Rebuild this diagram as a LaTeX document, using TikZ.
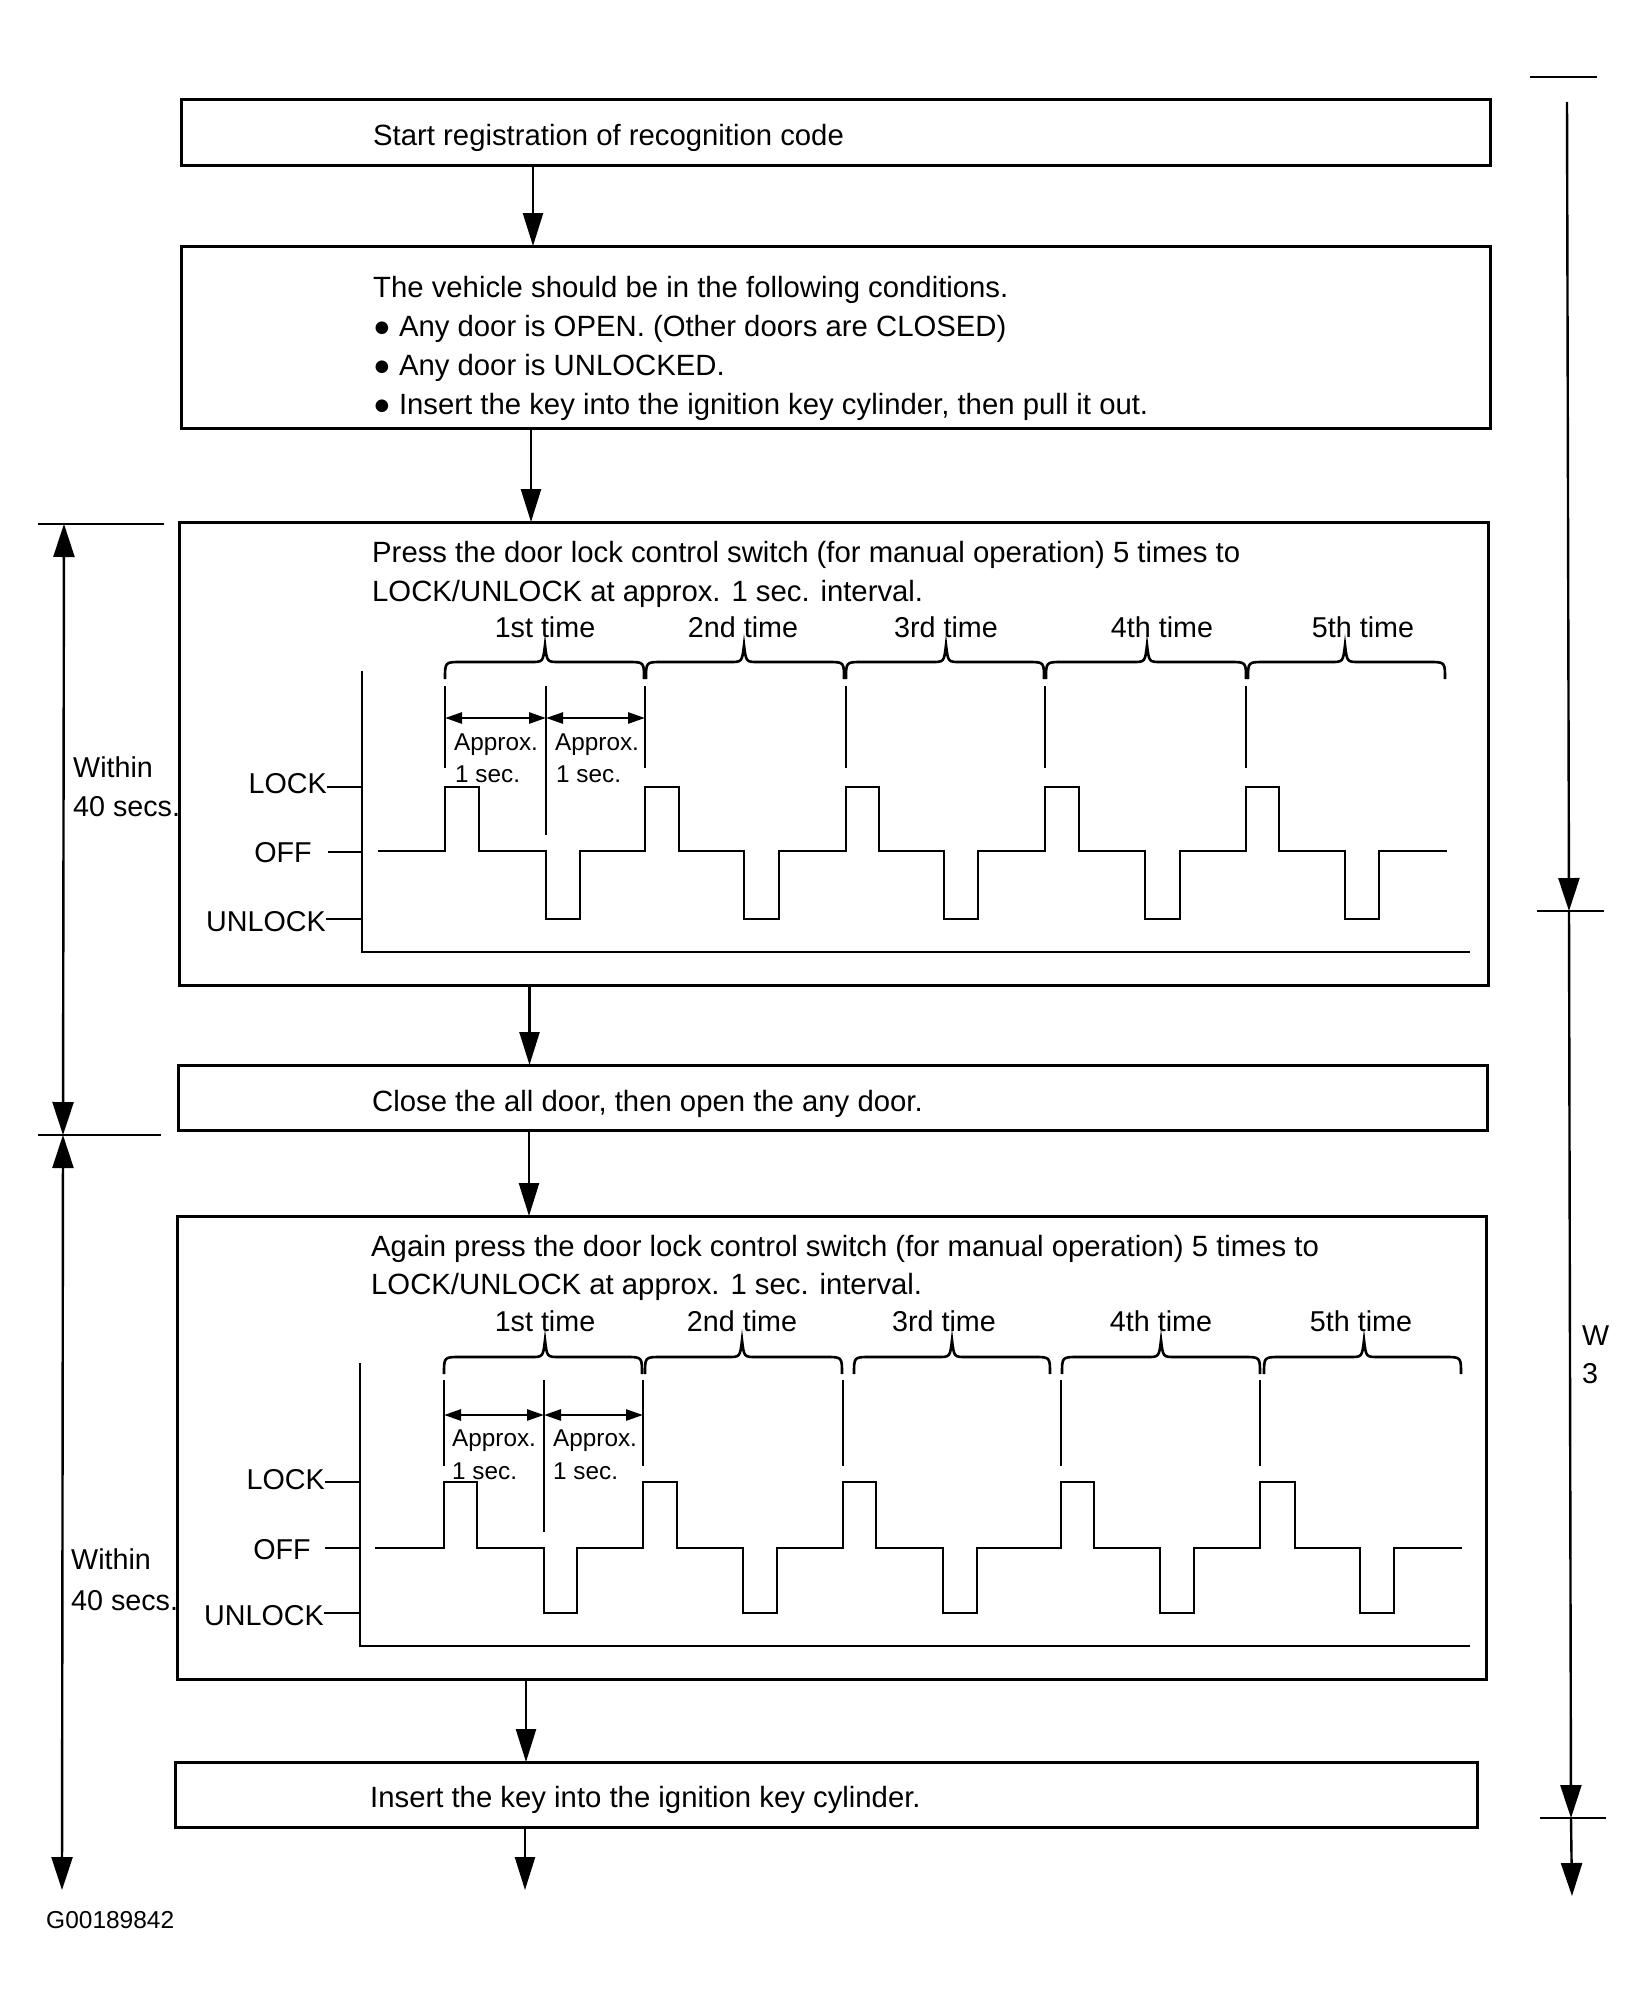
\documentclass[tikz,border=0pt]{standalone}
\usepackage{fontspec}
\setmainfont{Liberation Sans}
\usetikzlibrary{arrows.meta}
\newcommand\mybrace[5]{% x1, x2, xm, ytip, yend
  \pgfmathsetmacro\yh{(#4+#5)/2}
  \draw[thinl] (#1,#5) .. controls (#1,\yh) .. (#1+16,\yh) -- (#3-14,\yh) .. controls (#3-2,\yh) .. (#3,#4) .. controls (#3+2,\yh) .. (#3+14,\yh) -- (#2-16,\yh) .. controls (#2,\yh) .. (#2,#5);
}
\begin{document}
\begin{tikzpicture}[x=1pt,y=-1pt,
  box/.style={draw,line width=3pt,inner sep=0pt,outer sep=0pt,anchor=north west},
  flow/.style={line width=2.4pt,-{Triangle[length=33pt,width=20pt]}},
  dimline/.style={line width=2.4pt},
  dimarr/.style={line width=2.4pt,-{Triangle[length=33pt,width=21pt]}},
  dimboth/.style={line width=2.4pt,{Triangle[length=33pt,width=21pt]}-{Triangle[length=33pt,width=21pt]}},
  thinl/.style={line width=2.6pt},
  wave/.style={line width=2.8pt,line join=miter},
  approxarr/.style={line width=2.6pt,{Triangle[length=17pt,width=11pt]}-{Triangle[length=17pt,width=11pt]}},
  txt/.style={anchor=base west,inner sep=0pt,font=\fontsize{28.7}{39}\selectfont},
  boxtxt/.style={anchor=base west,inner sep=0pt,font=\fontsize{29.3}{39}\selectfont},
  lbl/.style={anchor=base,inner sep=0pt,font=\fontsize{28.7}{39}\selectfont},
  small/.style={anchor=base west,inner sep=0pt,font=\fontsize{24.3}{32}\selectfont}
]
\fill[white] (0,0) rectangle (1643,2002);
\useasboundingbox (0,0) rectangle (1643,2002);

% ---------- boxes ----------
\node[box,minimum width=1309pt,minimum height=66pt] (b1) at (181,99) {};
\node[box,minimum width=1309pt,minimum height=182pt] (b2) at (181,246) {};
\node[box,minimum width=1309pt,minimum height=463pt] (b3) at (179,522) {};
\node[box,minimum width=1309pt,minimum height=65pt] (b4) at (178,1065) {};
\node[box,minimum width=1309pt,minimum height=463pt] (b5) at (177,1216) {};
\node[box,minimum width=1302pt,minimum height=65pt] (b6) at (175,1762) {};

% ---------- flow arrows ----------
\coordinate (f1) at (533,0);
\coordinate (f2) at (531,0);
\coordinate (f3) at (529.5,0);
\coordinate (f4) at (529,0);
\coordinate (f5) at (526,0);
\coordinate (f6) at (525,0);
\coordinate (endflow) at (525,1890);
\draw[flow] (b1.south -| f1) -- (b2.north -| f1);
\draw[flow] (b2.south -| f2) -- (b3.north -| f2);
\draw[flow] (b3.south -| f3) -- (b4.north -| f3);
\draw[flow] (b4.south -| f4) -- (b5.north -| f4);
\draw[flow] (b5.south -| f5) -- (b6.north -| f5);
\draw[flow] (b6.south -| f6) -- (endflow);

% ---------- box texts ----------
\node[boxtxt] (t1) at (373,145) {Start registration of recognition code};
\node[boxtxt] (t2a) at (373,297) {The vehicle should be in the following conditions.};
\node[boxtxt] (t2b) at (373,336) {● Any door is OPEN. (Other doors are CLOSED)};
\node[boxtxt] (t2c) at (373,375) {● Any door is UNLOCKED.};
\node[boxtxt] (t2d) at (373,414) {● Insert the key into the ignition key cylinder, then pull it out.};
\node[boxtxt] (t3a) at (372,562) {Press the door lock control switch (for manual operation) 5 times to};
\node[boxtxt] (t3b) at (372,601) {LOCK/UNLOCK at approx. 1 sec. interval.};
\node[boxtxt] (t4) at (372,1111.6) {Close the all door, then open the any door.};
\node[boxtxt] (t5a) at (371,1256) {Again press the door lock control switch (for manual operation) 5 times to};
\node[boxtxt] (t5b) at (371,1294) {LOCK/UNLOCK at approx. 1 sec. interval.};
\node[boxtxt] (t6) at (370,1807.5) {Insert the key into the ignition key cylinder.};

% ---------- chart 1 ----------
\node[lbl] (a1) at (545,637) {1st time};
\node[lbl] (a2) at (743,637) {2nd time};
\node[lbl] (a3) at (946,637) {3rd time};
\node[lbl] (a4) at (1162,637) {4th time};
\node[lbl] (a5) at (1363,637) {5th time};
\mybrace{445}{644}{545}{645}{679}
\mybrace{646}{844}{744}{645}{679}
\mybrace{846}{1044}{946}{645}{679}
\mybrace{1046}{1246}{1147}{645}{679}
\mybrace{1248}{1445}{1345}{645}{679}
\draw[thinl] (362,671) -- (362,952) -- (1470,952);
\foreach \x in {445,645,846,1045,1246} \draw[thinl] (\x,686) -- (\x,768);
\draw[thinl] (546,686) -- (546,835);
\draw[approxarr] (445,718) -- (546,718);
\draw[approxarr] (546,718) -- (645,718);
\node[small] (p1) at (454,750) {Approx.};
\node[small] (p2) at (455,782) {1 sec.};
\node[small] (p3) at (555,750) {Approx.};
\node[small] (p4) at (556,782) {1 sec.};
\node[txt,anchor=base east] (lk1) at (327,793) {LOCK};
\node[lbl] (of1) at (283,862.6) {OFF};
\node[txt,anchor=base east] (ul1) at (326,931) {UNLOCK};
\draw[thinl] (327,787) -- (362,787);
\draw[thinl] (328,852) -- (362,852);
\draw[thinl] (326,919) -- (362,919);
\draw[wave] (378,851) -| (445,787) -| (479,851) -| (546,919) -| (580,851)
  -| (645,787) -| (679,851) -| (744,919) -| (779,851)
  -| (846,787) -| (879,851) -| (944,919) -| (978,851)
  -| (1045,787) -| (1079,851) -| (1145,919) -| (1180,851)
  -| (1246,787) -| (1279,851) -| (1345,919) -| (1379,851) -- (1447,851);

% ---------- chart 2 ----------
\node[lbl] (c1) at (545,1331) {1st time};
\node[lbl] (c2) at (742,1331) {2nd time};
\node[lbl] (c3) at (944,1331) {3rd time};
\node[lbl] (c4) at (1161,1331) {4th time};
\node[lbl] (c5) at (1361,1331) {5th time};
\mybrace{444}{642}{545}{1340}{1374}
\mybrace{645}{842}{742}{1340}{1374}
\mybrace{854}{1050}{952}{1340}{1374}
\mybrace{1062}{1260}{1161}{1340}{1374}
\mybrace{1264}{1461}{1364}{1340}{1374}
\draw[thinl] (360,1363) -- (360,1646) -- (1470,1646);
\foreach \x in {444,643,843,1061,1260} \draw[thinl] (\x,1380) -- (\x,1466);
\draw[thinl] (544,1380) -- (544,1532);
\draw[approxarr] (444,1415) -- (544,1415);
\draw[approxarr] (544,1415) -- (643,1415);
\node[small] (q1) at (452,1446) {Approx.};
\node[small] (q2) at (452,1479) {1 sec.};
\node[small] (q3) at (553,1446) {Approx.};
\node[small] (q4) at (553,1479) {1 sec.};
\node[txt,anchor=base east] (lk2) at (325,1489) {LOCK};
\node[lbl] (of2) at (282,1559) {OFF};
\node[txt,anchor=base east] (ul2) at (324,1625.6) {UNLOCK};
\draw[thinl] (325,1482) -- (360,1482);
\draw[thinl] (325,1548) -- (360,1548);
\draw[thinl] (324,1613) -- (360,1613);
\draw[wave] (375,1548) -| (444,1482) -| (477,1548) -| (544,1613) -| (577,1548)
  -| (643,1482) -| (677,1548) -| (743,1613) -| (777,1548)
  -| (843,1482) -| (876,1548) -| (943,1613) -| (977,1548)
  -| (1061,1482) -| (1094,1548) -| (1160,1613) -| (1194,1548)
  -| (1260,1482) -| (1295,1548) -| (1360,1613) -| (1394,1548) -- (1462,1548);

% ---------- left dimensions ----------
\coordinate (L1) at (64,524);
\coordinate (L2) at (63,1135);
\coordinate (L3) at (62,1890);
\draw[dimline] (38,524) -- (164,524);
\draw[dimline] (38,1135) -- (161,1135);
\draw[dimboth] (L1) -- (L2);
\draw[dimboth] (L2) -- (L3);
\node[txt] (w1) at (73,777) {Within};
\node[txt] (w2) at (73,816.5) {40 secs.};
\node[txt] (w3) at (71,1569.5) {Within};
\node[txt] (w4) at (71,1610) {40 secs.};

% ---------- right dimensions ----------
\coordinate (R0) at (1567,102);
\coordinate (R1) at (1569,911);
\coordinate (R2) at (1571,1818);
\coordinate (R3) at (1572,1896);
\draw[dimline] (1530,77) -- (1597,77);
\draw[dimline] (1537,911) -- (1604,911);
\draw[dimline] (1540,1818) -- (1606,1818);
\draw[dimarr] (R0) -- (R1);
\draw[dimarr] (R1) -- (R2);
\draw[dimarr] (R2) -- (R3);
\node[txt] (wl) at (1582,1345) {W};
\node[txt] (w3l) at (1582,1383) {3};

\node[anchor=base west,inner sep=0pt,font=\fontsize{24.5}{30}\selectfont] (code) at (46,1928.6) {G00189842};
\end{tikzpicture}
\end{document}
